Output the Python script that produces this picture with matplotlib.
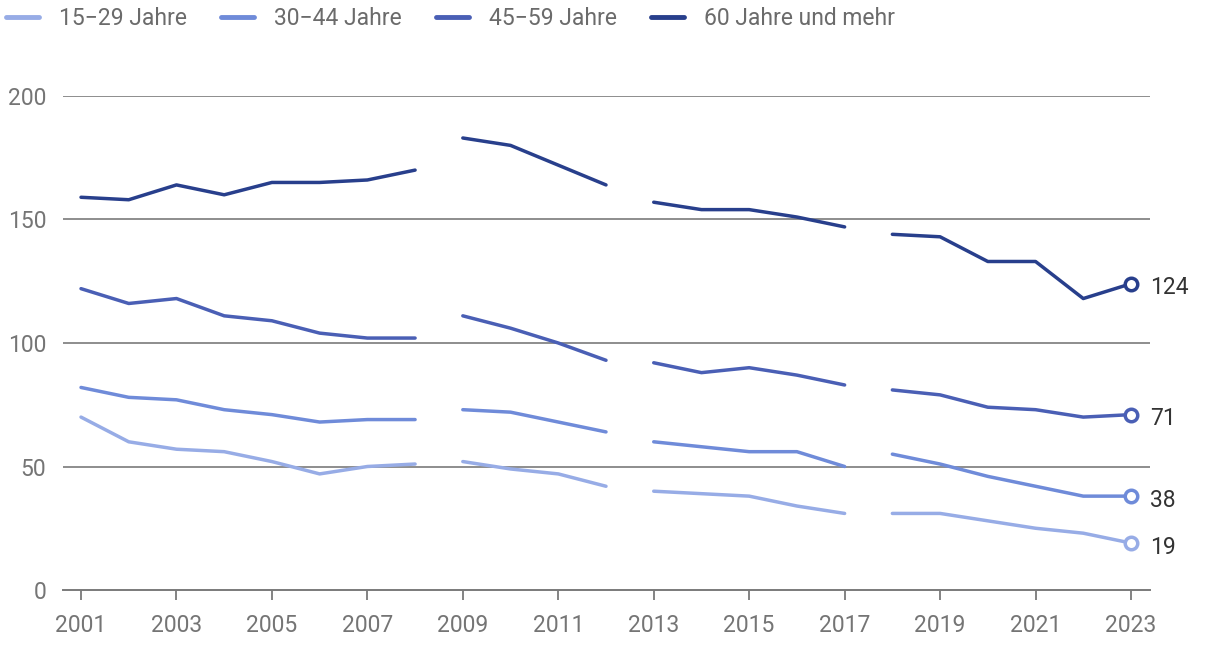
import matplotlib
matplotlib.use("Agg")
import matplotlib.pyplot as plt
from matplotlib.lines import Line2D
import numpy as np

plt.rcParams['font.family'] = ['Roboto', 'DejaVu Sans']

years = list(range(2001, 2024))
segments = [(2001, 2008), (2009, 2012), (2013, 2017), (2018, 2023)]

labels = ["15\u221229 Jahre", "30\u221244 Jahre", "45\u221259 Jahre", "60 Jahre und mehr"]
colors = ["#97ace6", "#6f8bd9", "#4a5fb5", "#283f8c"]

s15_29 = [70, 60, 57, 56, 52, 47, 50, 51, 52, 49, 47, 42, 40, 39, 38, 34, 31, 31, 31, 28, 25, 23, 19]
s30_44 = [82, 78, 77, 73, 71, 68, 69, 69, 73, 72, 68, 64, 60, 58, 56, 56, 50, 55, 51, 46, 42, 38, 38]
s45_59 = [122, 116, 118, 111, 109, 104, 102, 102, 111, 106, 100, 93, 92, 88, 90, 87, 83, 81, 79, 74, 73, 70, 71]
s60 = [159, 158, 164, 160, 165, 165, 166, 170, 183, 180, 172, 164, 157, 154, 154, 151, 147, 144, 143, 133, 133, 118, 124]

series = [s15_29, s30_44, s45_59, s60]
yticks = [0, 50, 100, 150, 200]
xticks = list(range(2001, 2024, 2))

fig = plt.figure(figsize=(12.2, 6.5), dpi=100)
ax = fig.add_axes([63/1220, 1 - 590/650, (1150-63)/1220, (590-96)/650])

grid_c = "#7a7a7a"
for yv in yticks[1:]:
    ax.axhline(yv, color=grid_c, lw=1.2, zorder=1)

yrs = np.array(years)
for vals, col in zip(series, colors):
    v = np.array(vals, dtype=float)
    for a, b in segments:
        m = (yrs >= a) & (yrs <= b)
        ax.plot(yrs[m], v[m], color=col, lw=2.5, solid_capstyle='round',
                solid_joinstyle='round', zorder=3)
    ax.plot([yrs[-1]], [v[-1]], marker='o', ms=9, mfc='white', mec=col,
            mew=2.5, zorder=4, clip_on=False)
    ax.annotate(f"{int(v[-1])}", (yrs[-1], v[-1]), xytext=(14, -3),
                textcoords='offset points', va='center', ha='left',
                fontsize=16.5, color="#333333")

ax.set_xlim(2001 - 18/47.7, 2023 + 19/47.7)
ax.set_ylim(0, 200)
ax.set_xticks(xticks)
ax.set_xticklabels([str(x) for x in xticks])
ax.set_yticks(yticks)
ax.set_yticklabels([str(y) for y in yticks])

for s in ['top', 'right', 'left']:
    ax.spines[s].set_visible(False)
ax.spines['bottom'].set_color(grid_c)
ax.spines['bottom'].set_linewidth(1.4)
ax.spines['bottom'].set_zorder(2)

ax.tick_params(axis='x', length=7, width=1.3, color=grid_c, labelcolor="#757575",
               labelsize=16.5, pad=10)
ax.tick_params(axis='y', length=0, labelcolor="#757575", labelsize=16.5, pad=12)

handles = [Line2D([0], [0], color=c, lw=3.5, solid_capstyle='round') for c in colors]
fig.legend(handles, labels, loc='upper left', bbox_to_anchor=(6/1220, 1 - 7/650),
           ncol=4, frameon=False, fontsize=16.5, labelcolor="#6b6b6b",
           handlelength=1.45, handletextpad=0.85, columnspacing=1.5,
           borderaxespad=0, borderpad=0)

fig.savefig("out.png", dpi=100)
